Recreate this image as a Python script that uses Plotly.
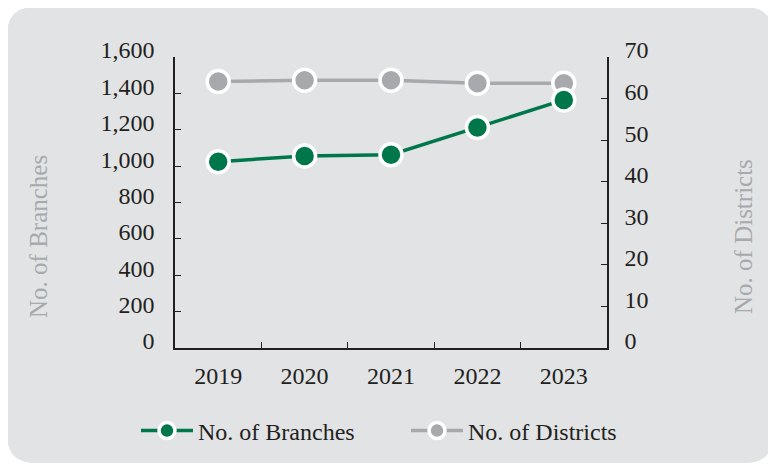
import plotly.graph_objects as go

years = ["2019", "2020", "2021", "2022", "2023"]
branches = [1024, 1056, 1063, 1212, 1364]
districts = [64.1, 64.4, 64.4, 63.7, 63.7]
left_ticks = [0, 200, 400, 600, 800, 1000, 1200, 1400, 1600]
right_ticks = [0, 10, 20, 30, 40, 50, 60, 70]

GREEN = "#00774a"
GRAY = "#a7a9ac"
DARK = "#231f20"
BG = "#e2e3e5"
FONT = "Liberation Serif, Times New Roman, serif"

OFF = 8  # page body margin
W, H = 776 - OFF, 465 - OFF
L, R, T, B = 175 - OFF, 607 - OFF, 57 - OFF, 348 - OFF  # plot area in figure px


def px(x):  # page px -> paper x
    return (x - OFF - L) / (R - L)


def py(y):  # page px -> paper y
    return (B - (y - OFF)) / (B - T)


# rounded background (page coords)
x0, x1, y0, y1, r = 7, 773, 7, 463, 28
path = (
    f"M {px(x0 + r)},{py(y0)} L {px(x1 - r)},{py(y0)} "
    f"Q {px(x1)},{py(y0)} {px(x1)},{py(y0 + r)} "
    f"L {px(x1)},{py(y1 - r)} Q {px(x1)},{py(y1)} {px(x1 - r)},{py(y1)} "
    f"L {px(x0 + r)},{py(y1)} Q {px(x0)},{py(y1)} {px(x0)},{py(y1 - r)} "
    f"L {px(x0)},{py(y0 + r)} Q {px(x0)},{py(y0)} {px(x0 + r)},{py(y0)} Z"
)

fig = go.Figure()
fig.add_trace(go.Scatter(
    x=years, y=branches, name="No. of Branches", yaxis="y2", legend="legend",
    mode="lines+markers",
    line=dict(color=GREEN, width=3.5),
    marker=dict(color=GREEN, size=22, line=dict(color="white", width=3.5)),
))
fig.add_trace(go.Scatter(
    x=years, y=districts, name="No. of Districts", yaxis="y", legend="legend2",
    mode="lines+markers",
    line=dict(color=GRAY, width=3.5),
    marker=dict(color=GRAY, size=22, line=dict(color="white", width=3.5)),
))

tickfont = dict(family=FONT, size=24, color=DARK)
legfont = dict(family=FONT, size=24, color=DARK)
leg_y = (H - (431 - OFF)) / H

fig.update_layout(
    width=W, height=H,
    margin=dict(l=L, r=W - R, t=T, b=H - B, autoexpand=False),
    paper_bgcolor="white",
    plot_bgcolor="rgba(0,0,0,0)",
    font=dict(family=FONT, color=DARK),
    showlegend=True,
    xaxis=dict(
        type="category", range=[-0.5, 4.5],
        showline=True, linecolor=DARK, linewidth=1.5,
        ticks="inside", ticklen=6, tickcolor=DARK, tickwidth=1.2,
        tickson="boundaries", showgrid=False, zeroline=False,
        tickfont=tickfont, ticklabelstandoff=5, automargin=False,
    ),
    yaxis=dict(
        side="right", range=[0, 70], tickvals=right_ticks,
        showline=True, linecolor=DARK, linewidth=1.5,
        ticks="inside", ticklen=6, tickcolor=DARK, tickwidth=1.2,
        showgrid=False, zeroline=False,
        tickfont=tickfont, ticklabelstandoff=11, ticklabelshift=-7,
        automargin=False,
    ),
    yaxis2=dict(
        side="left", overlaying="y", range=[0, 1600], tickvals=left_ticks,
        tickformat=",d",
        showline=True, linecolor=DARK, linewidth=1.5,
        ticks="inside", ticklen=6, tickcolor=DARK, tickwidth=1.2,
        showgrid=False, zeroline=False,
        tickfont=tickfont, ticklabelstandoff=14, ticklabelshift=-7,
        automargin=False,
    ),
    legend=dict(
        orientation="h", xref="container", yref="container",
        x=(136 - OFF) / W, xanchor="left", y=leg_y, yanchor="middle",
        font=legfont, bgcolor="rgba(0,0,0,0)", itemwidth=52,
    ),
    legend2=dict(
        orientation="h", xref="container", yref="container",
        x=(406 - OFF) / W, xanchor="left", y=leg_y, yanchor="middle",
        font=legfont, bgcolor="rgba(0,0,0,0)", itemwidth=52,
    ),
    shapes=[dict(type="path", path=path, xref="paper", yref="paper",
                 fillcolor=BG, line=dict(width=0), layer="below")],
    annotations=[
        dict(text="No. of Branches", x=px(38), y=py(237), xref="paper", yref="paper",
             textangle=-90, showarrow=False, xanchor="center", yanchor="middle",
             font=dict(family=FONT, size=25, color=GRAY)),
        dict(text="No. of Districts", x=px(743), y=py(237), xref="paper", yref="paper",
             textangle=-90, showarrow=False, xanchor="center", yanchor="middle",
             font=dict(family=FONT, size=25, color=GRAY)),
    ],
)

fig.write_html("out.html")
